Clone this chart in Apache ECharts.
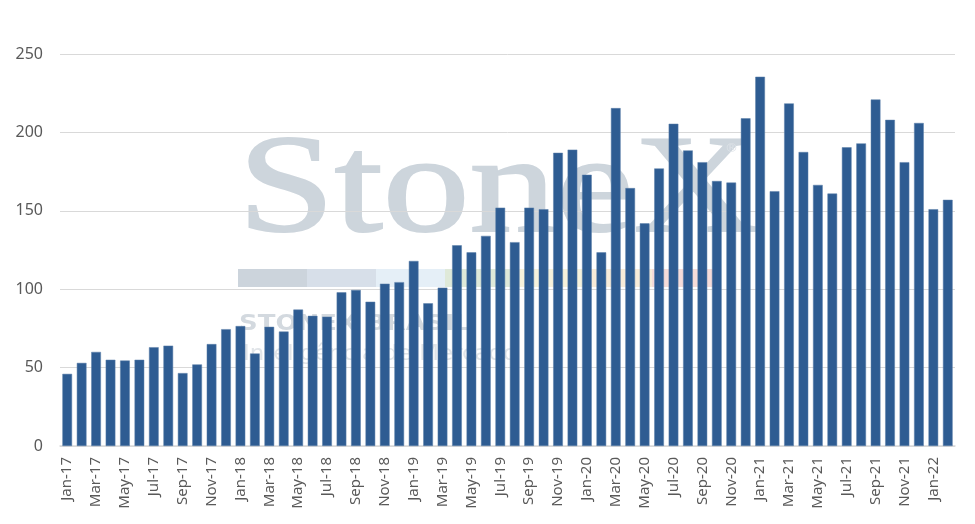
<!DOCTYPE html>
<html lang="pt">
  <head>
    <meta charset="UTF-8" />
    <title>monthly bars</title>
    <style>
      html,
      body {
        margin: 0;
        padding: 0;
        background: #ffffff;
      }
      #main {
        width: 975px;
        height: 524px;
      }
    </style>
  </head>
  <body>
    <div id="main"></div>
    <script src="https://cdn.jsdelivr.net/npm/echarts@6/dist/echarts.min.js"></script>
    <script>
      // months Jan-17 .. Feb-22
      const months = [
        "Jan-17", "Feb-17", "Mar-17", "Apr-17", "May-17", "Jun-17",
        "Jul-17", "Aug-17", "Sep-17", "Oct-17", "Nov-17", "Dec-17",
        "Jan-18", "Feb-18", "Mar-18", "Apr-18", "May-18", "Jun-18",
        "Jul-18", "Aug-18", "Sep-18", "Oct-18", "Nov-18", "Dec-18",
        "Jan-19", "Feb-19", "Mar-19", "Apr-19", "May-19", "Jun-19",
        "Jul-19", "Aug-19", "Sep-19", "Oct-19", "Nov-19", "Dec-19",
        "Jan-20", "Feb-20", "Mar-20", "Apr-20", "May-20", "Jun-20",
        "Jul-20", "Aug-20", "Sep-20", "Oct-20", "Nov-20", "Dec-20",
        "Jan-21", "Feb-21", "Mar-21", "Apr-21", "May-21", "Jun-21",
        "Jul-21", "Aug-21", "Sep-21", "Oct-21", "Nov-21", "Dec-21",
        "Jan-22", "Feb-22",
      ];

      const values = [
        46, 53, 60, 55, 54.5, 55, 63, 64, 46.5, 52, 65, 74.5,
        76.5, 59, 76, 73, 87, 83, 82.5, 98, 99.5, 92, 103.5, 104.5,
        118, 91, 101, 128, 123.5, 134, 152, 130, 152, 151, 187, 189,
        173, 123.5, 215.5, 164.5, 142, 177, 205.5, 188.5, 181, 169, 168, 209,
        235.5, 162.5, 218.5, 187.5, 166.5, 161, 190.5, 193, 221, 208, 181, 206,
        151, 157,
      ];

      const yTicks = [0, 50, 100, 150, 200, 250];

      // watermark band colours
      const bandColors = [
        "#ccd4dc", "#d7dfe9", "#e5eff7", "#dfe9d9",
        "#f6f2dc", "#f8ecd9", "#f6dcd9",
      ];

      const band = bandColors.map((c, i) => ({
        type: "rect",
        z: -10,
        shape: { x: 238 + i * 69, y: 269, width: 69, height: 18 },
        style: { fill: c },
      }));

      let mchart = echarts.init(document.getElementById("main"));
      let option = {
        animation: false,
        backgroundColor: "#ffffff",
        graphic: [
          // watermark logo behind the bars
          {
            type: "text",
            z: -10,
            x: 238,
            y: 124,
            scaleX: 1.24,
            style: {
              text: "StoneX",
              fill: "#cdd5dc",
              stroke: "#cdd5dc",
              lineWidth: 2,
              font: "140px 'Liberation Serif', serif",
            },
          },
          {
            type: "text",
            z: -10,
            x: 725,
            y: 142,
            style: {
              text: "®",
              fill: "#dde2e7",
              font: "13px 'DejaVu Sans', sans-serif",
            },
          },
          ...band,
          {
            type: "text",
            z: -10,
            x: 239,
            y: 313,
            scaleX: 1.18,
            style: {
              text: "STONEX BRASIL",
              fill: "#d3d9df",
              font: "bold 22px 'DejaVu Sans', sans-serif",
            },
          },
          {
            type: "text",
            z: -10,
            x: 243,
            y: 343,
            scaleX: 1.04,
            style: {
              text: "Inteligência de Mercado",
              fill: "#e0e4e8",
              font: "22px 'DejaVu Sans', sans-serif",
            },
          },
        ],
        grid: {
          left: 60,
          right: 20,
          top: 54,
          bottom: 78,
        },
        xAxis: {
          type: "category",
          data: months,
          axisLine: { lineStyle: { color: "#d9d9d9", width: 1.5 } },
          axisTick: { show: false },
          axisLabel: {
            interval: 1,
            rotate: 90,
            margin: 11,
            color: "#595959",
            fontSize: 15,
            fontFamily: "Noto Sans",
          },
        },
        yAxis: {
          type: "value",
          min: yTicks[0],
          max: yTicks[yTicks.length - 1],
          interval: 50,
          axisLine: { show: false },
          axisTick: { show: false },
          splitLine: { lineStyle: { color: "#d9d9d9", width: 1 } },
          axisLabel: {
            margin: 17,
            color: "#595959",
            fontSize: 16,
            fontFamily: "Noto Sans",
          },
        },
        series: [
          {
            name: "value",
            type: "bar",
            data: values,
            barCategoryGap: "33%",
            itemStyle: {
              color: "#2e5c92",
              borderColor: "#5a7ea8",
              borderWidth: 0.5,
            },
          },
        ],
      };
      mchart.setOption(option);
    </script>
  </body>
</html>
